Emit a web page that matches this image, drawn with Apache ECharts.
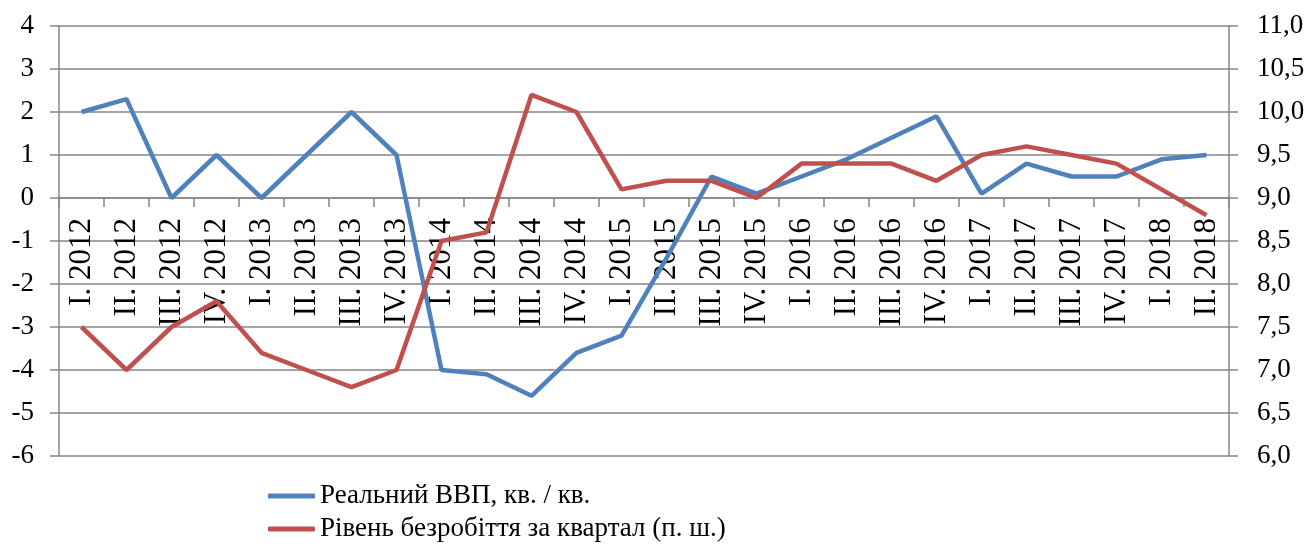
<!DOCTYPE html>
<html>
<head>
<meta charset="utf-8">
<title>ВВП і безробіття</title>
<script src="https://cdn.jsdelivr.net/npm/echarts@6/dist/echarts.min.js"></script>
<style>
    html, body { margin: 0; padding: 0; background: #fff; }
    #report { width: 1308px; height: 546px; }
</style>
</head>
<body>
<div id="report"></div>
<script>
// квартали
var quarters = [
    'I. 2012', 'II. 2012', 'III. 2012', 'IV. 2012',
    'I. 2013', 'II. 2013', 'III. 2013', 'IV. 2013',
    'I. 2014', 'II. 2014', 'III. 2014', 'IV. 2014',
    'I. 2015', 'II. 2015', 'III. 2015', 'IV. 2015',
    'I. 2016', 'II. 2016', 'III. 2016', 'IV. 2016',
    'I. 2017', 'II. 2017', 'III. 2017', 'IV. 2017',
    'I. 2018', 'II. 2018'
];

// Реальний ВВП, кв. / кв. (ліва вісь)
var gdp = [
    2.0, 2.3, 0.0, 1.0,
    0.0, 1.0, 2.0, 1.0,
    -4.0, -4.1, -4.6, -3.6,
    -3.2, -1.4, 0.5, 0.1,
    0.5, 0.9, 1.4, 1.9,
    0.1, 0.8, 0.5, 0.5,
    0.9, 1.0
];

// Рівень безробіття за квартал (права вісь)
var unemployment = [
    7.5, 7.0, 7.5, 7.8,
    7.2, 7.0, 6.8, 7.0,
    8.5, 8.6, 10.2, 10.0,
    9.1, 9.2, 9.2, 9.0,
    9.4, 9.4, 9.4, 9.2,
    9.5, 9.6, 9.5, 9.4,
    9.1, 8.8
];

var gdpName = 'Реальний ВВП, кв. / кв.';
var unempName = 'Рівень безробіття за квартал (п. ш.)';

var font = 'Liberation Serif';
var gridColor = '#868686';

// межі лівої осі
var leftMin = -6, leftMax = 4;
var gridTop = 26, gridBottom = 90, chartH = 546;

// вісь категорій стоїть на нулі лівої осі
var plotH = chartH - gridTop - gridBottom;
var zeroShift = -plotH * (0 - leftMin) / (leftMax - leftMin);

var report = echarts.init(document.getElementById('report'));

var option = {
    backgroundColor: '#fff',
    animation: false,
    grid: { left: 59, right: 79, top: gridTop, bottom: gridBottom, containLabel: false, outerBoundsMode: 'none' },
    legend: {
        orient: 'vertical',
        left: 268,
        top: 481,
        height: 70,
        itemWidth: 47,
        itemHeight: 5,
        itemGap: 3,
        icon: 'roundRect',
        padding: 0,
        textStyle: { fontFamily: font, fontSize: 27, lineHeight: 30, color: '#000' },
        data: [gdpName, unempName]
    },
    xAxis: {
        type: 'category',
        data: quarters,
        boundaryGap: true,
        offset: zeroShift,
        axisLine: { onZero: false, lineStyle: { color: gridColor, width: 1.5 } },
        axisTick: { show: true, length: 9, alignWithLabel: false, lineStyle: { color: gridColor, width: 1.5 } },
        axisLabel: {
            interval: 0,
            rotate: 90,
            margin: 20,
            fontFamily: font,
            fontSize: 31,
            color: '#000'
        },
        splitLine: { show: false }
    },
    yAxis: [
        {
            type: 'value',
            min: leftMin,
            max: leftMax,
            interval: 1,
            axisLine: { show: true, lineStyle: { color: gridColor, width: 1.5 } },
            axisTick: { show: true, length: 9, lineStyle: { color: gridColor, width: 1.5 } },
            axisLabel: { margin: 25, fontFamily: font, fontSize: 27, color: '#000' },
            splitLine: { show: true, lineStyle: { color: gridColor, width: 1.5 } }
        },
        {
            type: 'value',
            min: 6,
            max: 11,
            interval: 0.5,
            position: 'right',
            axisLine: { show: true, lineStyle: { color: gridColor, width: 1.5 } },
            axisTick: { show: true, length: 9, lineStyle: { color: gridColor, width: 1.5 } },
            axisLabel: {
                margin: 28,
                fontFamily: font,
                fontSize: 27,
                color: '#000',
                formatter: function (v) { return v.toFixed(1).replace('.', ','); }
            },
            splitLine: { show: false }
        }
    ],
    series: [
        {
            name: gdpName,
            type: 'line',
            yAxisIndex: 0,
            data: gdp,
            showSymbol: false,
            symbol: 'none',
            color: '#4F81BD',
            lineStyle: { color: '#4F81BD', width: 4.5 }
        },
        {
            name: unempName,
            type: 'line',
            yAxisIndex: 1,
            data: unemployment,
            showSymbol: false,
            symbol: 'none',
            color: '#C0504D',
            lineStyle: { color: '#C0504D', width: 4.5 }
        }
    ]
};

report.setOption(option);
</script>
</body>
</html>
